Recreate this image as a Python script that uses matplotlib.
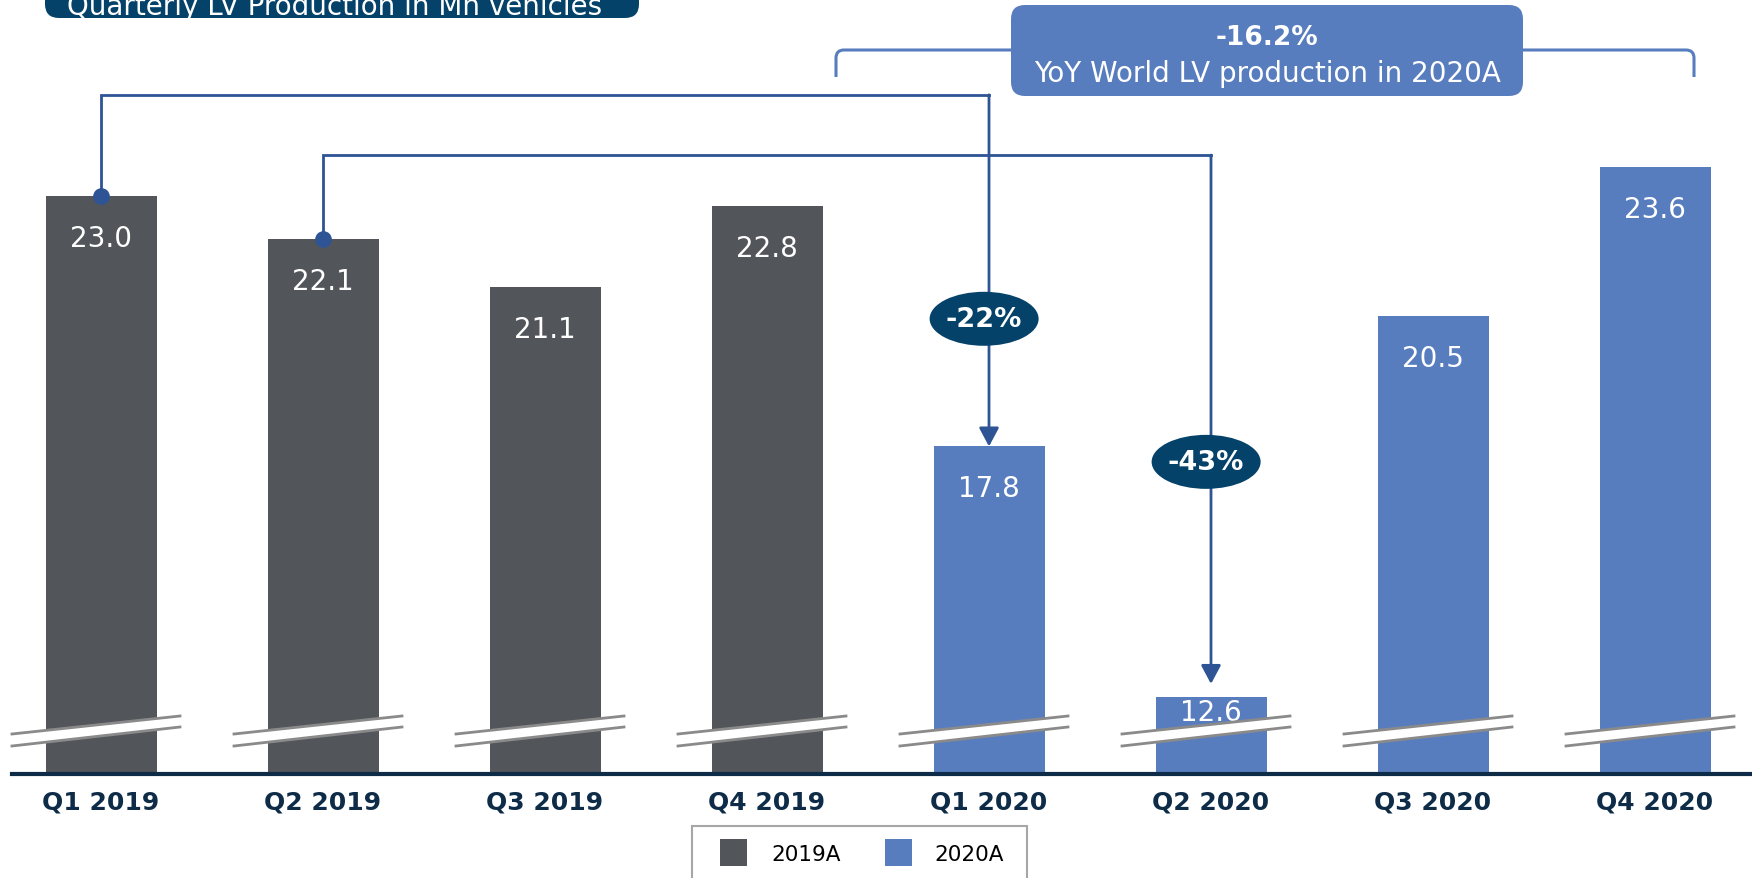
import matplotlib
matplotlib.use("Agg")
import matplotlib.pyplot as plt
import matplotlib.patches as mpatches
import matplotlib.transforms as mtransforms
from matplotlib.path import Path

# data
quarters = ['Q1 2019', 'Q2 2019', 'Q3 2019', 'Q4 2019',
            'Q1 2020', 'Q2 2020', 'Q3 2020', 'Q4 2020']
production = [23.0, 22.1, 21.1, 22.8, 17.8, 12.6, 20.5, 23.6]
series = ['2019A', '2019A', '2019A', '2019A', '2020A', '2020A', '2020A', '2020A']
series_names = ['2019A', '2020A']
yoy_pairs = [(0, 4, '-22%'), (1, 5, '-43%')]
total_yoy = '-16.2%'
total_text = 'YoY World LV production in 2020A'
title = 'Quarterly LV Production in Mn vehicles'

GRAY = '#525559'
BLUE = '#587dbf'
NAVY = '#04426a'
DARK = '#0e2c48'
LINE = '#2e5495'
colors = {'2019A': GRAY, '2020A': BLUE}

W, H = 1752, 879
plt.rcParams['font.family'] = ['DejaVu Sans']
fig = plt.figure(figsize=(W / 100, H / 100), dpi=100)
ID = mtransforms.IdentityTransform()

base_px = 775
ax = fig.add_axes([0, (H - base_px) / H, 1, base_px / H])
ymin = 11.0
ax.set_ylim(ymin, ymin + base_px / 48.17)
ax.set_xlim(-101 / 222, (W - 101) / 222)
ax.axis('off')

x = list(range(len(quarters)))
ax.bar(x, production, width=0.5, bottom=0, color=[colors[s] for s in series], zorder=2)
ax.plot([-0.4, 7.5], [ymin, ymin], color=DARK, lw=3, clip_on=False, zorder=5)

fig.canvas.draw()

# value labels
for xi, v in zip(x, production):
    top_px = ax.transData.transform((xi, v))[1] - ax.transData.transform((xi, ymin))[1]
    off = min(42, top_px * 0.2)
    ax.annotate(f'{v:.1f}', xy=(xi, v), xytext=(0, -off), textcoords='offset pixels',
                ha='center', va='center', color='white', fontsize=20, zorder=4)

# break marks
for xi in x:
    bx, by = ax.transData.transform((xi, ymin))
    up = [(bx - 89, by + 40), (bx + 79, by + 58)]
    lo = [(bx - 89, by + 28), (bx + 79, by + 47)]
    poly = mpatches.Polygon([up[0], up[1], lo[1], lo[0]], closed=True, fc='white',
                            ec='none', transform=ID, zorder=6)
    fig.add_artist(poly)
    for seg in (up, lo):
        fig.add_artist(plt.Line2D([seg[0][0], seg[1][0]], [seg[0][1], seg[1][1]],
                                  color='#8a8a8a', lw=2, transform=ID, zorder=7))

# tick labels
for xi, q in zip(x, quarters):
    ax.text(xi, -0.036, q, transform=ax.get_xaxis_transform(), ha='center', va='center',
            fontsize=18, fontweight='bold', color=DARK)

# connectors
levels = [25.1, 23.85]
ell_y = [20.45, 17.48]
tips = [0, 0.27]
for (a, b, lab), lev, ey, tip in zip(yoy_pairs, levels, ell_y, tips):
    ax.plot([a, a, b], [production[a], lev, lev], color=LINE, lw=2, zorder=3,
            solid_joinstyle='miter')
    ax.plot(a, production[a], 'o', color=LINE, ms=11, zorder=4)
    ax.annotate('', xy=(b, production[b] + tip), xytext=(b, lev),
                arrowprops=dict(arrowstyle='-|>,head_length=0.75,head_width=0.4',
                                color=LINE, lw=2, shrinkA=0, shrinkB=0, mutation_scale=15),
                zorder=3)
    ax.add_patch(mpatches.Ellipse((b - 0.022, ey), 109 / 222, 54 / 48.17, fc=NAVY,
                                  ec='none', zorder=5))
    ax.text(b - 0.022, ey, lab, ha='center', va='center', color='white',
            fontsize=19.5, fontweight='bold', zorder=6)

# bracket + callout
bl, br, by_, bd, r = 836, 1694, H - 51, H - 78, 8
verts = [(bl, bd), (bl, by_ - r), (bl, by_), (bl + r, by_), (br - r, by_), (br, by_),
         (br, by_ - r), (br, bd)]
codes = [Path.MOVETO, Path.LINETO, Path.CURVE3, Path.CURVE3, Path.LINETO, Path.CURVE3,
         Path.CURVE3, Path.LINETO]
fig.add_artist(mpatches.PathPatch(Path(verts, codes), fc='none', ec=BLUE, lw=2.2,
                                  transform=ID, zorder=8))
fig.add_artist(mpatches.FancyBboxPatch((1011, H - 97), 512, 91,
                                       boxstyle='round,pad=0,rounding_size=14',
                                       fc=BLUE, ec='none', transform=ID, zorder=9))
fig.text(1267, H - 38, total_yoy, transform=ID, ha='center', va='center', color='white',
         fontsize=19, fontweight='bold', zorder=10)
fig.text(1267, H - 74, total_text, transform=ID, ha='center', va='center', color='white',
         fontsize=20, zorder=10)

# title tab
fig.add_artist(mpatches.FancyBboxPatch((45, H - 19), 594, 60,
                                       boxstyle='round,pad=0,rounding_size=14',
                                       fc=NAVY, ec='none', transform=ID, zorder=9))
fig.text(67, H - 15, title, transform=ID, ha='left', va='baseline', color='white',
         fontsize=20, zorder=10)

# legend
fig.add_artist(mpatches.Rectangle((692, -20), 335, H - 827 + 20, fc='none', ec='#a6a6a6',
                                  lw=1.5, transform=ID, zorder=9))
for name, sx, tx in zip(series_names, [720, 885], [771, 934]):
    fig.add_artist(mpatches.Rectangle((sx, H - 867), 27, 27, fc=colors[name], ec='none',
                                      transform=ID, zorder=10))
    fig.text(tx, H - 855, name, transform=ID, ha='left', va='center', color='black',
             fontsize=15.5, zorder=10)

fig.savefig('out.png', dpi=100)
